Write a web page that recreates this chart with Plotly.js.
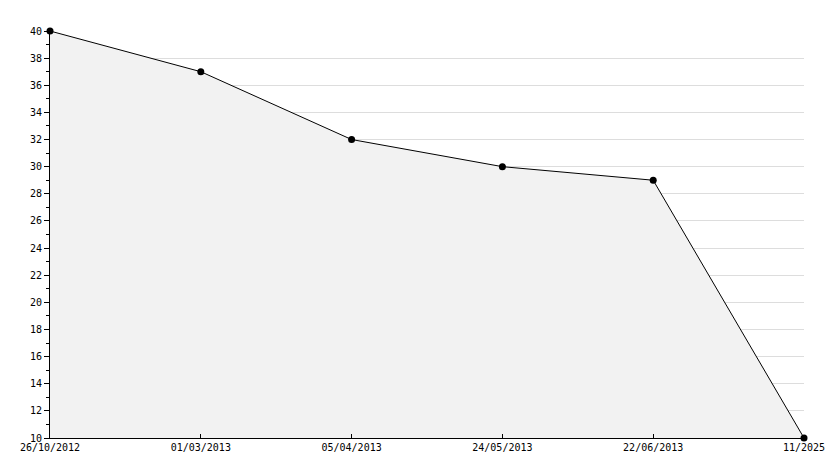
<!DOCTYPE html>
<html><head><meta charset="utf-8">
<script src="https://cdn.plot.ly/plotly-3.0.1.min.js"></script>
<style>html,body{margin:0;padding:0;background:#fff}#chart{width:834px;height:468px}</style>
</head><body><div id="chart"></div>
<script>
const dates = ["26/10/2012", "01/03/2013", "05/04/2013", "24/05/2013", "22/06/2013", "11/2025"];
const values = [40, 37, 32, 30, 29, 10];

const trace = {
  x: dates, y: values, type: 'scatter', mode: 'lines+markers',
  fill: 'tozeroy', fillcolor: '#f2f2f2', cliponaxis: false,
  line: {color: '#000', width: 1},
  marker: {color: '#000', size: 7, symbol: 'circle'},
  hoverinfo: 'x+y'
};
const layout = {
  width: 834, height: 468,
  margin: {l: 50, r: 30, t: 31, b: 30},
  paper_bgcolor: '#fff', plot_bgcolor: '#fff',
  showlegend: false,
  font: {family: 'DejaVu Sans Mono', size: 10, color: '#000'},
  xaxis: {
    type: 'category', range: [0, 5], showgrid: false, zeroline: false,
    showline: true, linecolor: '#000', linewidth: 1,
    ticks: 'inside', ticklen: 4, tickcolor: '#000',
    tickfont: {family: 'DejaVu Sans Mono', size: 10, color: '#000'}
  },
  yaxis: {
    range: [10, 40], dtick: 2, tick0: 10, showgrid: true, gridcolor: '#dddddd',
    zeroline: false, showline: true, linecolor: '#000', linewidth: 1,
    ticks: 'outside', ticklen: 5, tickcolor: '#000',
    minor: {dtick: 1, ticks: 'outside', ticklen: 3, tickcolor: '#000', showgrid: false},
    tickfont: {family: 'DejaVu Sans Mono', size: 10, color: '#000'}
  }
};
Plotly.newPlot('chart', [trace], layout, {displayModeBar: false, staticPlot: true});
</script></body></html>
